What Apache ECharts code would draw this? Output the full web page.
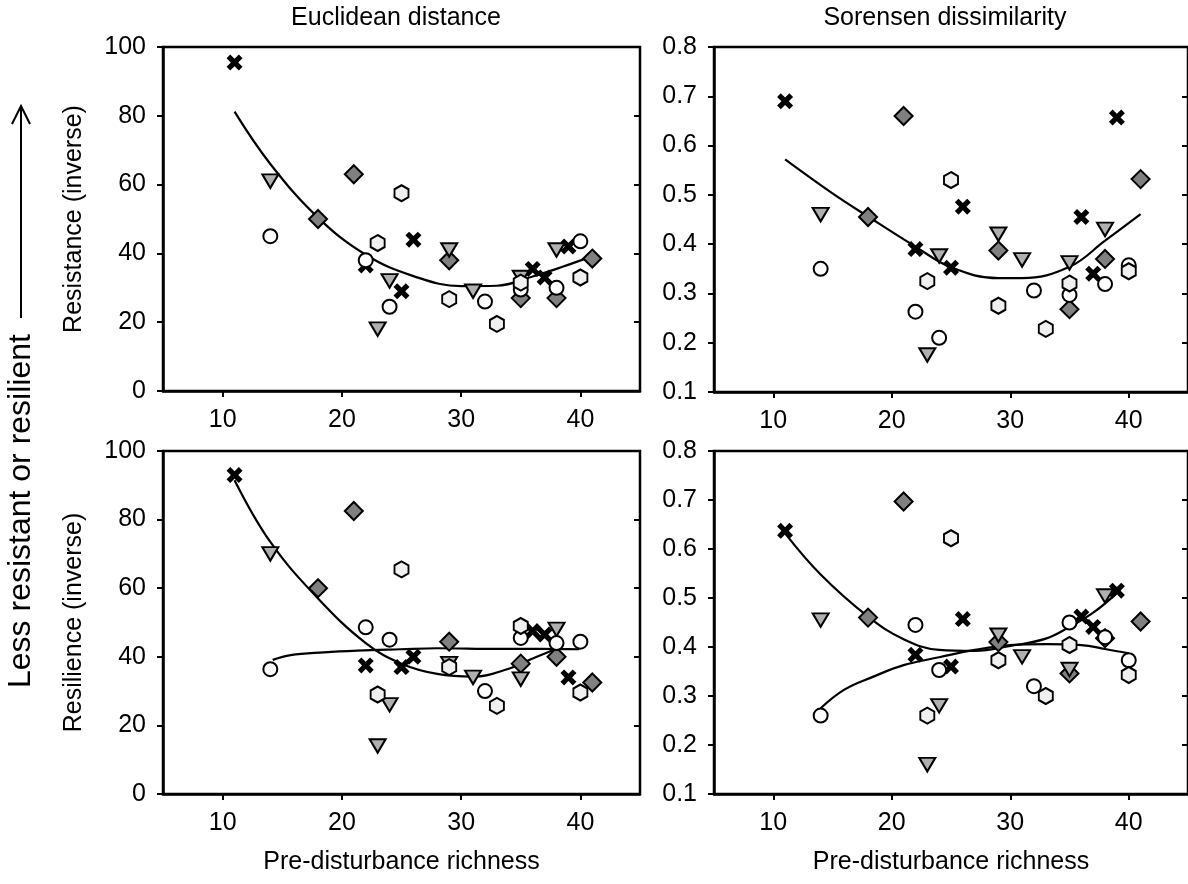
<!DOCTYPE html>
<html>
<head>
<meta charset="utf-8">
<script src="https://cdn.jsdelivr.net/npm/echarts@6/dist/echarts.min.js"></script>
<style>
html,body{margin:0;padding:0;background:#fff;}
#chart{width:1188px;height:884px;}
</style>
</head>
<body>
<div id="chart"></div>
<script>
// ---- pre-disturbance richness (x) per symbol group ----
const xCross    = [11, 22, 25, 26, 36, 37, 39];
const xDiamond  = [18, 21, 29, 35, 38, 41];
const xTriangle = [14, 23, 24, 29, 31, 35, 38];
const xCircle   = [14, 22, 24, 32, 35, 38, 40];
const xHexagon  = [23, 25, 29, 33, 35, 40];

// ---- Resistance, Euclidean distance ----
const resEucCross    = [95.5, 36.5, 29, 44, 35.5, 33, 42];
const resEucDiamond  = [50, 63, 38, 27, 27, 38.5];
const resEucTriangle = [61, 18, 32, 41, 29, 33, 41];
const resEucCircle   = [45, 38, 24.5, 26, 29.5, 30, 43.5];
const resEucHexagon  = [43, 57.5, 26.7, 19.5, 31.5, 33];
const resEucFitX = [11, 14, 18, 22, 26, 30, 33, 36, 38.5, 41];
const resEucFitY = [81.2, 66, 50.4, 39.6, 33.4, 30.5, 30.6, 33.3, 36.1, 39.2];

// ---- Resistance, Sorensen dissimilarity ----
const resSorCross    = [0.69, 0.39, 0.352, 0.476, 0.455, 0.34, 0.657];
const resSorDiamond  = [0.455, 0.66, 0.387, 0.268, 0.37, 0.532];
const resSorTriangle = [0.46, 0.175, 0.376, 0.42, 0.368, 0.362, 0.43];
const resSorCircle   = [0.35, 0.263, 0.21, 0.306, 0.297, 0.319, 0.357];
const resSorHexagon  = [0.325, 0.53, 0.275, 0.228, 0.32, 0.345];
const resSorFitX = [11, 15, 18, 22, 25, 29, 31, 35, 38, 41];
const resSorFitY = [0.572, 0.503, 0.456, 0.395, 0.353, 0.331, 0.331, 0.354, 0.407, 0.461];

// ---- Resilience, Euclidean distance ----
const rslEucCross    = [93, 37.5, 37, 40, 47.5, 46.5, 34];
const rslEucDiamond  = [60, 82.5, 44.4, 38, 40, 32.5];
const rslEucTriangle = [70, 14, 26, 38, 34, 33.5, 48];
const rslEucCircle   = [36.4, 48.6, 45, 30, 45.5, 44, 44.4];
const rslEucHexagon  = [29, 65.5, 37, 25.7, 49, 29.6];
const rslEucFitAX = [11, 14, 18, 22, 25, 28, 31, 34, 36, 37.9];
const rslEucFitAY = [91.5, 73.5, 57, 44, 38, 35, 34.2, 36.5, 39.5, 42.2];
const rslEucFitBX = [14.2, 15.7, 18.5, 21.3, 24.9, 28, 33, 36.5, 39.9];
const rslEucFitBY = [39.1, 40.5, 41.3, 41.8, 42.2, 42.5, 42.3, 42.3, 42.2];

// ---- Resilience, Sorensen dissimilarity ----
const rslSorCross    = [0.637, 0.384, 0.36, 0.457, 0.462, 0.441, 0.515];
const rslSorDiamond  = [0.46, 0.697, 0.41, 0.346, 0.418, 0.452];
const rslSorTriangle = [0.455, 0.16, 0.28, 0.424, 0.38, 0.354, 0.504];
const rslSorCircle   = [0.26, 0.445, 0.353, 0.32, 0.45, 0.42, 0.373];
const rslSorHexagon  = [0.26, 0.622, 0.373, 0.30, 0.404, 0.343];
const rslSorFitAX = [11, 14, 18, 21, 24, 27, 30, 33, 35, 37, 39];
const rslSorFitAY = [0.632, 0.548, 0.462, 0.416, 0.394, 0.392, 0.402, 0.417, 0.441, 0.47, 0.51];
const rslSorFitBX = [14, 16, 18.4, 21, 24, 27, 30, 33, 36, 38, 40];
const rslSorFitBY = [0.275, 0.313, 0.339, 0.363, 0.379, 0.394, 0.404, 0.406, 0.404, 0.396, 0.387];

// ---- axis tick labels ----
const xTickValues = [10, 20, 30, 40];
const colTitles = ['Euclidean distance', 'Sorensen dissimilarity'];
const rowNames = ['Resistance (inverse)', 'Resilience (inverse)'];
const xAxisTitle = 'Pre-disturbance richness';
const sideTitle = 'Less resistant or resilient';

const FONT = '"Liberation Sans", Arial, sans-serif';
const FS = 25;

const SYM_CROSS = 'path://M0,2.3 L2.3,0 L5,2.7 L7.7,0 L10,2.3 L7.3,5 L10,7.7 L7.7,10 L5,7.3 L2.3,10 L0,7.7 L2.7,5 Z';
const SYM_TRI = 'path://M0,0 L10,0 L5,8.5 Z';
const SYM_HEX = 'path://M5,0 L9.3,2.5 L9.3,7.5 L5,10 L0.7,7.5 L0.7,2.5 Z';

const groups = [
  {x: xCross,    symbol: SYM_CROSS, size: 16, color: '#000', border: 0},
  {x: xDiamond,  symbol: 'diamond', size: 18, color: '#808080', border: 2},
  {x: xTriangle, symbol: SYM_TRI,   size: [16, 13.5], color: '#b0b0b0', border: 2},
  {x: xCircle,   symbol: 'circle',  size: 14, color: '#ffffff', border: 2},
  {x: xHexagon,  symbol: SYM_HEX,   size: [14, 16], color: '#f0f0f0', border: 2}
];

const panels = [
  {grid: {left: 163, top: 47, width: 477, height: 344}, ymin: 0, ymax: 100, yint: 20,
   vals: [resEucCross, resEucDiamond, resEucTriangle, resEucCircle, resEucHexagon],
   fits: [[resEucFitX, resEucFitY]], yName: rowNames[0], xName: ''},
  {grid: {left: 714, top: 47, width: 478, height: 345}, ymin: 0.1, ymax: 0.8, yint: 0.1,
   vals: [resSorCross, resSorDiamond, resSorTriangle, resSorCircle, resSorHexagon],
   fits: [[resSorFitX, resSorFitY]], yName: '', xName: ''},
  {grid: {left: 163, top: 451, width: 477, height: 343}, ymin: 0, ymax: 100, yint: 20,
   vals: [rslEucCross, rslEucDiamond, rslEucTriangle, rslEucCircle, rslEucHexagon],
   fits: [[rslEucFitAX, rslEucFitAY], [rslEucFitBX, rslEucFitBY]], yName: rowNames[1], xName: xAxisTitle},
  {grid: {left: 714, top: 451, width: 478, height: 343}, ymin: 0.1, ymax: 0.8, yint: 0.1,
   vals: [rslSorCross, rslSorDiamond, rslSorTriangle, rslSorCircle, rslSorHexagon],
   fits: [[rslSorFitAX, rslSorFitAY], [rslSorFitBX, rslSorFitBY]], yName: '', xName: xAxisTitle}
];

const zip = (a, b) => a.map((v, i) => [v, b[i]]);
const txt = {color: '#000', fontFamily: FONT, fontSize: FS};

const grid = [], xAxis = [], yAxis = [], series = [];
panels.forEach((p, i) => {
  grid.push(Object.assign({show: true, borderColor: '#000', borderWidth: 2.5, backgroundColor: 'transparent', containLabel: false}, p.grid));
  xAxis.push({
    type: 'value', gridIndex: i, min: 5, max: 45,
    axisLine: {show: true, onZero: false, lineStyle: {color: '#000', width: 2.5}},
    axisTick: {show: true, inside: false, length: 6, lineStyle: {color: '#000', width: 2}, customValues: xTickValues},
    axisLabel: Object.assign({margin: 17, customValues: xTickValues}, txt),
    splitLine: {show: false},
    name: p.xName, nameLocation: 'middle', nameGap: 56,
    nameTextStyle: txt
  });
  yAxis.push({
    type: 'value', gridIndex: i, min: p.ymin, max: p.ymax, interval: p.yint, position: 'left',
    axisLine: {show: true, onZero: false, lineStyle: {color: '#000', width: 2.5}},
    axisTick: {show: true, inside: false, length: 6, lineStyle: {color: '#000', width: 2}},
    axisLabel: Object.assign({margin: 17}, txt),
    splitLine: {show: false},
    name: p.yName, nameLocation: 'middle', nameGap: 76, nameRotate: 90,
    nameTextStyle: txt
  });
  yAxis.push({
    type: 'value', gridIndex: i, min: p.ymin, max: p.ymax, interval: p.yint, position: 'right',
    axisLine: {show: false},
    axisTick: {show: true, inside: true, length: 6, lineStyle: {color: '#000', width: 2}},
    axisLabel: {show: false},
    splitLine: {show: false}
  });
  p.fits.forEach(f => {
    series.push({
      type: 'line', xAxisIndex: i, yAxisIndex: 2 * i, data: zip(f[0], f[1]),
      smooth: 0.4, showSymbol: false, symbol: 'none', silent: true, z: 2,
      lineStyle: {color: '#000', width: 2.2}
    });
  });
  groups.forEach((g, k) => {
    series.push({
      type: 'scatter', xAxisIndex: i, yAxisIndex: 2 * i, data: zip(g.x, p.vals[k]),
      symbol: g.symbol, symbolSize: g.size, z: 3 + k,
      itemStyle: {color: g.color, borderColor: '#000', borderWidth: g.border, opacity: 1}
    });
  });
});

const chart = echarts.init(document.getElementById('chart'), null, {renderer: 'canvas'});
chart.setOption({
  animation: false,
  backgroundColor: '#fff',
  grid, xAxis, yAxis, series,
  graphic: [
    {type: 'text', x: 396, y: 18, style: {text: colTitles[0], fill: '#000', font: FS + 'px ' + FONT, textAlign: 'center', textVerticalAlign: 'middle'}},
    {type: 'text', x: 945, y: 18, style: {text: colTitles[1], fill: '#000', font: FS + 'px ' + FONT, textAlign: 'center', textVerticalAlign: 'middle'}},
    {type: 'text', x: 21, y: 688, rotation: Math.PI / 2, style: {text: sideTitle, fill: '#000', font: '32px ' + FONT, textAlign: 'left', textVerticalAlign: 'middle'}},
    {type: 'line', shape: {x1: 21, y1: 318, x2: 21, y2: 107}, style: {stroke: '#000', lineWidth: 2}},
    {type: 'polyline', shape: {points: [[12, 124], [21, 106], [30, 124]]}, style: {stroke: '#000', lineWidth: 2, fill: null}}
  ]
});
</script>
</body>
</html>
